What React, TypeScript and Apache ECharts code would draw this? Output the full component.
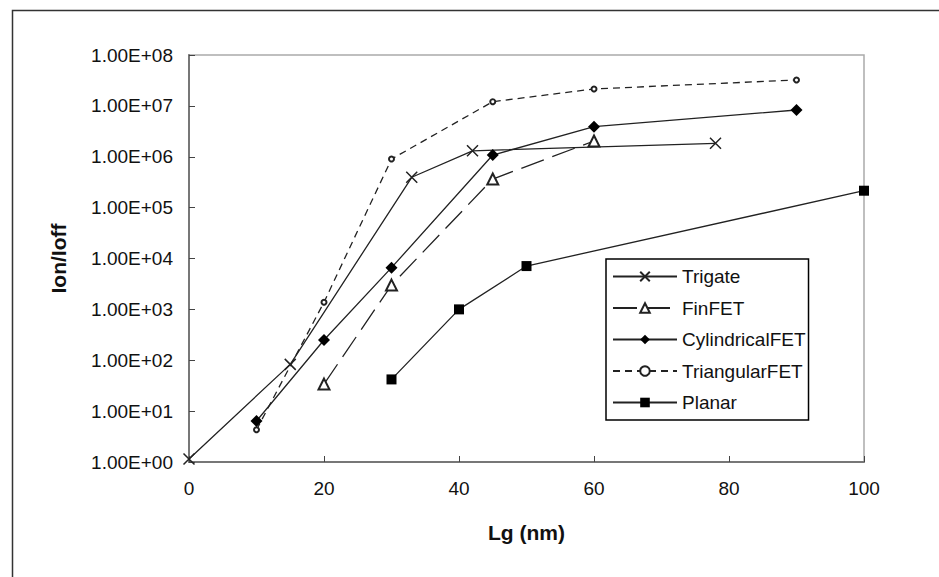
import React, { useEffect, useRef } from "react";
import * as echarts from "echarts";

// ---- data ----
const seriesNames = ["Trigate", "FinFET", "CylindricalFET", "TriangularFET", "Planar"];

const trigateLg = [0, 15, 33, 42, 78];
const trigateRatio = [1.15, 83, 3.95e5, 1.31e6, 1.84e6];

const finfetLg = [20, 30, 45, 60];
const finfetRatio = [34, 3.0e3, 3.65e5, 2.04e6];

const cylLg = [10, 20, 30, 45, 60, 90];
const cylRatio = [6.4, 250, 6.6e3, 1.08e6, 3.9e6, 8.3e6];

const triLg = [10, 20, 30, 45, 60, 90];
const triRatio = [4.3, 1.38e3, 9.0e5, 1.21e7, 2.15e7, 3.23e7];

const planarLg = [30, 40, 50, 100];
const planarRatio = [42, 1.0e3, 7.1e3, 2.15e5];

const yTickLabels = [
  "1.00E+00", "1.00E+01", "1.00E+02", "1.00E+03", "1.00E+04",
  "1.00E+05", "1.00E+06", "1.00E+07", "1.00E+08",
];
const xTicks = [0, 20, 40, 60, 80, 100];

const xTitle = "Lg (nm)";
const yTitle = "Ion/Ioff";

const pairs = (xs: number[], ys: number[]) => xs.map((x, i) => [x, ys[i]]);

const FONT = "Arial, 'Liberation Sans', Helvetica, sans-serif";
const INK = "#222";

export default function App() {
  const ref = useRef<HTMLDivElement>(null);

  useEffect(() => {
    if (!ref.current) return;
    const chart = echarts.init(ref.current, undefined, { renderer: "svg" });

    const common = {
      type: "line",
      animation: false,
      showAllSymbol: true,
    };

    chart.setOption({
      animation: false,
      backgroundColor: "#fff",
      graphic: [
        {
          type: "rect",
          left: 10,
          top: 8,
          z: -10,
          shape: { width: 1000, height: 700 },
          style: { fill: "none", stroke: "#333", lineWidth: 1.5 },
          silent: true,
        },
      ],
      grid: {
        left: 189,
        right: 75,
        top: 55,
        bottom: 115,
        show: true,
        borderColor: "#aaa",
        borderWidth: 1.5,
        backgroundColor: "transparent",
      },
      legend: {
        orient: "vertical",
        left: 606,
        top: 259,
        padding: [8, 3, 8, 6],
        itemWidth: 64,
        itemHeight: 12,
        itemGap: 12.5,
        backgroundColor: "#fff",
        borderColor: "#000",
        borderWidth: 1.5,
        borderRadius: 0,
        data: seriesNames,
        textStyle: { fontSize: 19, fontFamily: FONT, color: "#111" },
      },
      xAxis: {
        type: "value",
        min: 0,
        max: 100,
        interval: 20,
        name: xTitle,
        nameLocation: "middle",
        nameGap: 60,
        nameTextStyle: { fontSize: 21, fontWeight: "bold", fontFamily: FONT, color: "#111" },
        axisLine: { show: true, onZero: false, lineStyle: { color: "#777", width: 2 } },
        axisTick: { show: true, inside: true, length: 6, lineStyle: { color: "#444" } },
        splitLine: { show: false },
        axisLabel: {
          margin: 17,
          fontSize: 19,
          fontFamily: FONT,
          color: "#111",
          formatter: (v: number) => (xTicks.includes(v) ? String(v) : ""),
        },
      },
      yAxis: {
        type: "log",
        logBase: 10,
        min: 1,
        max: 1e8,
        name: yTitle,
        nameLocation: "middle",
        nameGap: 120,
        nameRotate: 90,
        nameTextStyle: { fontSize: 21, fontWeight: "bold", fontFamily: FONT, color: "#111" },
        axisLine: { show: true, lineStyle: { color: "#777", width: 2 } },
        axisTick: { show: true, inside: true, length: 6, lineStyle: { color: "#444" } },
        splitLine: { show: false },
        minorTick: { show: false },
        axisLabel: {
          margin: 16,
          fontSize: 19,
          fontFamily: FONT,
          color: "#111",
          formatter: (v: number) => {
            const e = Math.round(Math.log10(v));
            return yTickLabels[e] ?? "";
          },
        },
      },
      series: [
        {
          ...common,
          name: seriesNames[0],
          data: pairs(trigateLg, trigateRatio),
          symbol: "path://M0,0L10,10M10,0L0,10",
          symbolSize: 11,
          itemStyle: { color: INK, borderColor: INK, borderWidth: 1.5 },
          lineStyle: { color: INK, width: 1.3, type: "solid" },
          z: 3,
        },
        {
          ...common,
          name: seriesNames[1],
          data: pairs(finfetLg, finfetRatio),
          symbol: "emptyTriangle",
          symbolSize: 11,
          itemStyle: { color: INK, borderColor: INK, borderWidth: 1.4 },
          lineStyle: { color: INK, width: 1.3, type: [24, 9] },
          z: 4,
        },
        {
          ...common,
          name: seriesNames[2],
          data: pairs(cylLg, cylRatio),
          symbol: "diamond",
          symbolSize: 12,
          itemStyle: { color: "#000" },
          lineStyle: { color: INK, width: 1.3, type: "solid" },
          z: 5,
        },
        {
          ...common,
          name: seriesNames[3],
          data: pairs(triLg, triRatio),
          symbol: "emptyCircle",
          symbolSize: 5,
          itemStyle: { color: INK, borderColor: INK, borderWidth: 1.2 },
          lineStyle: { color: INK, width: 1.3, type: [7, 5] },
          z: 2,
        },
        {
          ...common,
          name: seriesNames[4],
          data: pairs(planarLg, planarRatio),
          symbol: "rect",
          symbolSize: 10,
          itemStyle: { color: "#000" },
          lineStyle: { color: INK, width: 1.3, type: "solid" },
          z: 5,
        },
      ],
    });

    return () => chart.dispose();
  }, []);

  return (
    <div
      ref={ref}
      style={{ position: "absolute", left: 0, top: 0, width: 939, height: 577, background: "#fff" }}
    />
  );
}
